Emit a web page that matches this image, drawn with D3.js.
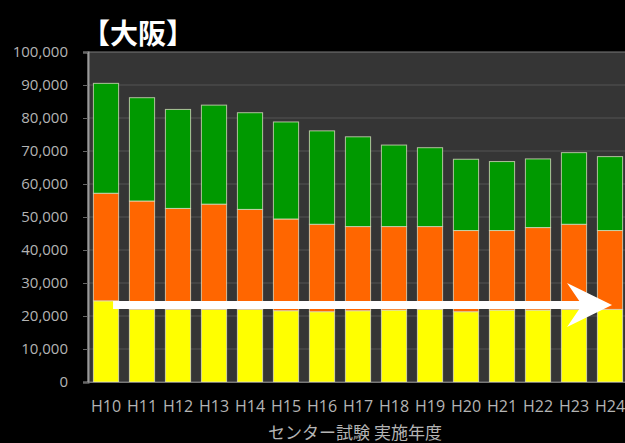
<!doctype html>
<html lang="ja">
<head>
  <meta charset="utf-8">
  <title>大阪 センター試験</title>
  <script src="https://cdn.jsdelivr.net/npm/d3@7"></script>
  <style>
    html,body{margin:0;padding:0;background:#000;overflow:hidden}
    .tick text{fill:#b4b4b4}
  </style>
</head>
<body>
  <div id="container"></div>
<script>
// センター試験 実施年度
var years = ["H10","H11","H12","H13","H14","H15","H16","H17","H18","H19","H20","H21","H22","H23","H24"];
// bottom (yellow), middle (orange), top (green) segments
var yellowVals = [24600,22000,22000,22000,22000,21600,21300,21600,21800,22000,21300,21800,21800,22000,22000];
var orangeVals = [32600,32850,30600,31900,30300,27800,26500,25500,25300,25100,24600,24100,25000,25800,23900];
var greenVals  = [33300,31300,30000,30000,29300,29400,28300,27200,24700,23900,21600,20900,20800,21700,22400];
var yTicks = [0,10000,20000,30000,40000,50000,60000,70000,80000,90000,100000];
var arrowFrom = "H10", arrowTo = "H24", arrowLevel = 23300;

var W = 625, H = 443,
    plotL = 88, plotT = 52, plotB = 382, plotR = 628;

var rows = years.map(function (y, i) {
  return {year: y, yellow: yellowVals[i], orange: orangeVals[i], green: greenVals[i]};
});
var keys = ["yellow","orange","green"],
    colors = {yellow: "#ffff00", orange: "#ff6600", green: "#009900"};

var svg = d3.select("#container").append("svg").attr("width", W).attr("height", H);

var x = d3.scaleBand().domain(years).range([plotL, plotR]).paddingInner(0.3).paddingOuter(0.15),
    y = d3.scaleLinear().domain([0, 100000]).range([plotB, plotT]);

// plot background
svg.append("rect").attr("x", plotL).attr("y", plotT).attr("width", plotR - plotL).attr("height", plotB - plotT)
  .attr("fill", "#353535").attr("stroke", "#7a7a7a").attr("stroke-width", 1);

// gridlines
svg.append("g").selectAll("line").data(yTicks.filter(function (d) { return d > 0 && d < 100000; }))
  .enter().append("line")
  .attr("x1", plotL).attr("x2", plotR)
  .attr("y1", function (d) { return y(d); }).attr("y2", function (d) { return y(d); })
  .attr("stroke", "#555").attr("stroke-width", 1);

// bars
var series = d3.stack().keys(keys)(rows);
svg.append("g").selectAll("g").data(series).enter().append("g")
  .attr("fill", function (s) { return colors[s.key]; })
  .selectAll("rect").data(function (s) { return s; }).enter().append("rect")
  .attr("x", function (d) { return x(d.data.year); })
  .attr("y", function (d) { return y(d[1]); })
  .attr("width", x.bandwidth())
  .attr("height", function (d) { return y(d[0]) - y(d[1]); })
  .attr("stroke", "rgba(225,225,200,0.75)").attr("stroke-width", 1);

// y axis
var yAxis = svg.append("g").attr("transform", "translate(" + plotL + ",0)")
  .call(d3.axisLeft(y).tickValues(yTicks).tickSize(5).tickPadding(15).tickFormat(d3.format(",")));
yAxis.select(".domain").attr("stroke", "#9a9a9a").attr("stroke-width", 2);
yAxis.selectAll(".tick line").attr("stroke", "#666");
yAxis.selectAll("text").style("font-family", "'Open Sans', sans-serif").style("font-size", "15px");

// x axis
var xAxis = svg.append("g").attr("transform", "translate(0," + plotB + ")")
  .call(d3.axisBottom(x).tickSize(0).tickPadding(19));
xAxis.select(".domain").attr("stroke", "#777");
xAxis.selectAll("text").style("font-family", "'Open Sans', sans-serif").style("font-size", "16px");

// arrow annotation
var ay = y(arrowLevel),
    ax0 = x(arrowFrom) + x.bandwidth() * 0.78,
    tip = x(arrowTo) + x.bandwidth() * 0.58;
svg.append("line").attr("x1", ax0).attr("x2", tip - 30).attr("y1", ay).attr("y2", ay)
  .attr("stroke", "#fff").attr("stroke-width", 8);
svg.append("path")
  .attr("d", "M" + tip + "," + ay + "L" + (tip - 45) + "," + (ay - 22) + "L" + (tip - 30) + "," + ay +
             "L" + (tip - 45) + "," + (ay + 22) + "Z")
  .attr("fill", "#fff");

// titles
svg.append("text").attr("x", 82).attr("y", 44).text("【大阪】")
  .attr("fill", "#fff").style("font-family", "'Noto Sans CJK JP', sans-serif")
  .style("font-size", "28px").style("font-weight", "bold");
svg.append("text").attr("x", 355).attr("y", 439).attr("text-anchor", "middle").text("センター試験 実施年度")
  .attr("fill", "#b4b4b4").style("font-family", "'Noto Sans CJK JP', sans-serif").style("font-size", "17px");
</script>
</body>
</html>
